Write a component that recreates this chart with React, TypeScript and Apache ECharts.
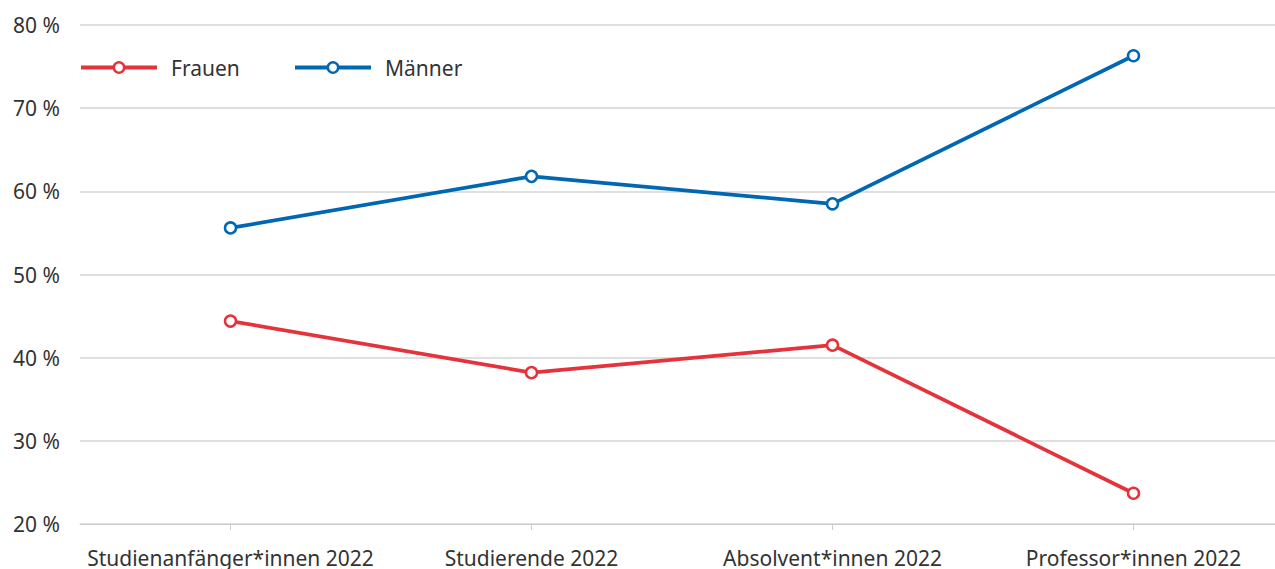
import React, { useEffect, useRef } from "react";
import * as echarts from "echarts";

const categories = [
  "Studienanfänger*innen 2022",
  "Studierende 2022",
  "Absolvent*innen 2022",
  "Professor*innen 2022",
];
const frauen = [44.4, 38.2, 41.5, 23.7];
const maenner = [55.6, 61.8, 58.5, 76.3];
const seriesNames = ["Frauen", "Männer"];
const colors = ["#E5333B", "#0068B3"];

const FONT = "Noto Sans";

export default function App() {
  const ref = useRef<HTMLDivElement>(null);
  useEffect(() => {
    document.body.style.margin = "0";
    document.body.style.overflow = "hidden";
    const chart = echarts.init(ref.current!, undefined, { renderer: "svg" });
    const mkSeries = (name: string, data: number[], color: string) => ({
      name,
      type: "line",
      data,
      symbol: "circle",
      symbolSize: 11,
      showSymbol: true,
      lineStyle: { color, width: 3.7 },
      itemStyle: { color: "#ffffff", borderColor: color, borderWidth: 2.5 },
      emphasis: { disabled: true },
    });
    const legendCommon = {
      top: 52,
      itemWidth: 76,
      itemHeight: 13,
      lineStyle: { width: 4 },
      itemStyle: { borderWidth: 2.5 },
      textStyle: { fontFamily: FONT, fontSize: 21, color: "#333333", padding: [0, 0, 0, 9] },
      selectedMode: false,
    };
    chart.setOption({
      animation: false,
      color: colors,
      textStyle: { fontFamily: FONT },
      legend: [
        { ...legendCommon, left: 74, data: [seriesNames[0]] },
        { ...legendCommon, left: 288, data: [seriesNames[1]] },
      ],
      grid: { left: 80, right: 0, top: 25, bottom: 45 },
      xAxis: {
        type: "category",
        data: categories,
        boundaryGap: true,
        axisLine: { show: true, lineStyle: { color: "#cccccc", width: 1 } },
        axisTick: { show: true, alignWithLabel: true, length: 6, lineStyle: { color: "#cccccc" } },
        axisLabel: { fontFamily: FONT, fontSize: 21, color: "#333333", margin: 23, interval: 0 },
        splitLine: { show: false },
      },
      yAxis: {
        type: "value",
        min: 20,
        max: 80,
        interval: 10,
        axisLine: { show: false },
        axisTick: { show: false },
        axisLabel: {
          fontFamily: FONT,
          fontSize: 21,
          color: "#333333",
          margin: 20,
          formatter: (v: number) => `${v} %`,
        },
        splitLine: { lineStyle: { color: "#d4d4d4", width: 1.5 } },
      },
      series: [
        mkSeries(seriesNames[0], frauen, colors[0]),
        mkSeries(seriesNames[1], maenner, colors[1]),
      ],
    });
    return () => chart.dispose();
  }, []);
  return <div ref={ref} style={{ width: 1284, height: 569 }} />;
}
